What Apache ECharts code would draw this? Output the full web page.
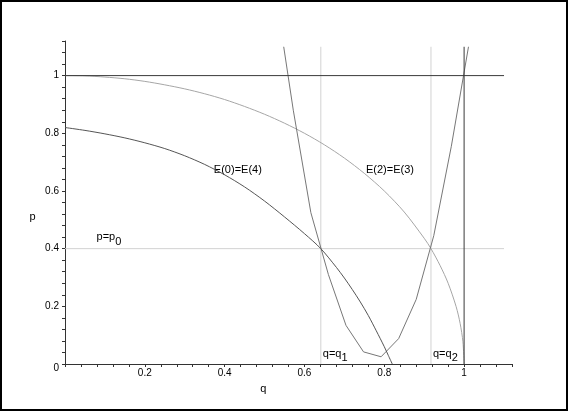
<!DOCTYPE html>
<html>
<head>
<meta charset="utf-8">
<script src="https://cdn.jsdelivr.net/npm/echarts@6/dist/echarts.min.js"></script>
<style>
html, body { margin: 0; padding: 0; background: #fff; }
#chart { width: 568px; height: 411px; }
</style>
</head>
<body>
<div id="chart"></div>
<script>
// E(0)=E(4) curve
const e04Q = [0, 0.05, 0.1, 0.15, 0.2, 0.25, 0.3, 0.35, 0.4, 0.45, 0.5, 0.55, 0.6, 0.641, 0.68, 0.7, 0.72, 0.74, 0.76, 0.78, 0.8, 0.81, 0.82]
const e04P = [0.82, 0.81, 0.798, 0.784, 0.767, 0.747, 0.722, 0.692, 0.656, 0.614, 0.565, 0.51, 0.452, 0.4, 0.335, 0.298, 0.258, 0.215, 0.168, 0.115, 0.06, 0.03, 0]

// E(2)=E(3) curve
const e23Q = [0, 0.05, 0.1, 0.15, 0.2, 0.25, 0.3, 0.35, 0.4, 0.45, 0.5, 0.55, 0.6, 0.65, 0.7, 0.75, 0.8, 0.85, 0.9, 0.917, 0.94, 0.96, 0.98, 0.99, 0.997, 1.0]
const e23P = [1.0, 0.999, 0.995, 0.989, 0.98, 0.968, 0.954, 0.937, 0.917, 0.893, 0.866, 0.835, 0.8, 0.76, 0.714, 0.661, 0.6, 0.527, 0.436, 0.4, 0.341, 0.28, 0.199, 0.141, 0.077, 0]

// the sampled U-shaped curve
const uQ = [0.548, 0.572, 0.616, 0.660, 0.704, 0.748, 0.792, 0.836, 0.880, 0.924, 0.968, 1.011]
const uP = [1.10, 0.88, 0.525, 0.31, 0.134, 0.042, 0.025, 0.088, 0.224, 0.445, 0.755, 1.10]

// reference lines
const q1 = 0.641
const q2 = 0.917
const p0 = 0.4
const lineEnd = 1.1

const font = "'Liberation Sans', Arial, sans-serif"

function zip(xs, ys) {
  return xs.map((x, i) => [x, ys[i]])
}

function isMajor(v) {
  return Math.abs(v * 5 - Math.round(v * 5)) < 1e-6
}

function tickLabel(v) {
  if (!isMajor(v)) return ''
  return String(+v.toFixed(2))
}

function lineSeries(data, color, smooth) {
  return {
    type: 'line',
    data: data,
    symbol: 'none',
    smooth: smooth || false,
    silent: true,
    lineStyle: { color: color, width: 1 }
  }
}

const chart = echarts.init(document.getElementById('chart'))

const axisCommon = {
  type: 'value',
  min: 0,
  max: 1.12,
  interval: 0.04,
  axisLine: { show: true, onZero: false, lineStyle: { color: '#333', width: 1 } },
  axisTick: { show: true, length: 3, lineStyle: { color: '#333' } },
  splitLine: { show: false },
  axisLabel: { color: '#000', fontSize: 10, fontFamily: font, margin: 5 }
}

chart.setOption({
  animation: false,
  backgroundColor: '#fff',
  grid: { left: 65, right: 56, top: 41, bottom: 47 },
  xAxis: Object.assign({}, axisCommon, {
    axisLabel: Object.assign({}, axisCommon.axisLabel, {
      margin: 4,
      formatter: v => (v === 0 ? '' : tickLabel(v))
    })
  }),
  yAxis: Object.assign({}, axisCommon, {
    axisLabel: Object.assign({}, axisCommon.axisLabel, {
      margin: 6,
      formatter: v => (v === 0 ? '{z|0}' : tickLabel(v)),
      rich: { z: { fontSize: 10, fontFamily: font, color: '#000', padding: [8, 0, 0, 0] } }
    })
  }),
  series: [
    lineSeries([[q1, 0], [q1, lineEnd]], '#d2d2d2'),
    lineSeries([[q2, 0], [q2, lineEnd]], '#d2d2d2'),
    lineSeries([[0, p0], [lineEnd, p0]], '#d2d2d2'),
    lineSeries(zip(e23Q, e23P), '#a6a6a6', 0.3),
    lineSeries(zip(uQ, uP), '#777'),
    lineSeries(zip(e04Q, e04P), '#555', 0.3),
    lineSeries([[0, 1], [lineEnd, 1]], '#3a3a3a'),
    lineSeries([[1, 0], [1, lineEnd]], '#3a3a3a')
  ]
})

// text annotations placed through the axes
const labels = [
  { at: [0.373, 0.674], text: 'E(0)=E(4)' },
  { at: [0.754, 0.674], text: 'E(2)=E(3)' },
  { at: [0.079, 0.44], text: '{a|p=p}{s|0}' },
  { at: [0.646, 0.035], text: '{a|q=q}{s|1}' },
  { at: [0.922, 0.035], text: '{a|q=q}{s|2}' },
  { at: [-0.081, 0.51], text: 'p', align: 'center' },
  { at: [0.497, -0.087], text: 'q', align: 'center' }
]

const rich = {
  a: { fontSize: 11, fontFamily: font, fill: '#000' },
  s: { fontSize: 11, fontFamily: font, fill: '#000', padding: [9, 0, 0, 0] }
}

chart.setOption({
  graphic: [
    {
      type: 'rect',
      shape: { x: 1, y: 1, width: 566, height: 409 },
      style: { fill: 'none', stroke: '#000', lineWidth: 2 },
      silent: true
    }
  ].concat(labels.map(l => {
    const pt = chart.convertToPixel({ gridIndex: 0 }, l.at)
    return {
      type: 'text',
      x: pt[0],
      y: pt[1],
      silent: true,
      style: {
        text: l.text,
        rich: rich,
        fontSize: 11,
        fontFamily: font,
        fill: '#000',
        align: l.align || 'left',
        verticalAlign: 'middle'
      }
    }
  }))
})
</script>
</body>
</html>
